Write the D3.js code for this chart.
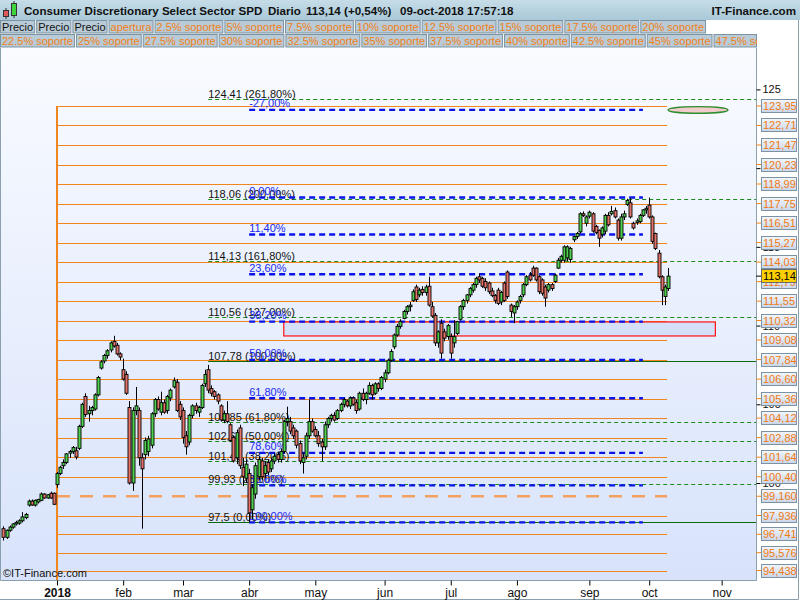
<!DOCTYPE html>
<html>
<head>
<meta charset="utf-8">
<script src="https://cdn.jsdelivr.net/npm/d3@7"></script>
<style>
  body { margin: 0; background: #fff; }
  svg { display: block; font-family: "Liberation Sans", Arial, sans-serif; }
</style>
</head>
<body>
<svg id="chart" width="800" height="600"></svg>
<script>
// ---- data ----
const firstDay = '2017-12-06';
const holidays = ['2017-12-25', '2018-01-01', '2018-01-15', '2018-02-19', '2018-03-30',
    '2018-05-28', '2018-07-04', '2018-09-03', '2018-11-22'];

const open = [
    97.1, 96.55, 97.0, 97.2, 97.4, 97.45, 97.6, 97.8, 98.6, 98.85, 98.6, 98.8, 98.9, 99.3, 99.05, 99.35, 99.35,
    99.9, 100.6, 101.1, 101.3, 101.9, 102.0, 102.05, 102.2, 103.6, 105.5, 104.4, 104.6, 104.7, 105.6, 107.3, 107.75, 108.1, 108.45, 109.0, 108.75, 108.2,
    107.2, 106.9, 104.8, 100.0, 104.6, 104.6, 101.6, 101.8, 102.0, 102.4, 104.4, 105.3, 104.5, 105.1, 104.6, 105.4, 106.1, 106.4, 105.0,
    104.6, 103.0, 102.6, 104.3, 104.9, 104.5, 104.8, 106.3, 107.2, 106.0, 105.8, 105.6, 104.9, 104.0, 104.4, 103.7, 102.9, 101.6, 103.5, 101.0, 100.3,
    100.6, 98.3, 99.3, 100.4, 101.4, 100.6, 101.3, 100.9, 101.4, 101.8, 101.5, 102.0, 103.9, 103.9, 103.5, 103.3, 102.5, 101.3, 101.7, 103.0, 103.9,
    103.4, 103.0, 102.6, 102.3, 103.7, 104.1, 104.3, 104.1, 104.6, 105.0, 105.2, 104.9, 105.4, 105.1, 104.7, 105.7, 105.3, 105.7, 106.2, 105.7, 106.3, 106.0,
    106.6, 107.0, 107.8, 108.65, 109.4, 109.95, 110.45, 110.9, 111.2, 111.6, 112.45, 111.95, 112.3, 112.1, 112.5, 111.2, 110.65, 108.9, 110.15, 109.6, 109.3,
    109.3, 108.9, 109.5, 110.4, 111.2, 111.6, 111.95, 112.25, 112.6, 113.1, 113.0, 112.8, 112.7, 112.2, 111.9, 112.25, 111.5, 112.7, 113.4, 111.3, 110.8,
    111.2, 111.6, 111.95, 112.6, 113.2, 113.65, 113.65, 113.1, 112.9, 112.45, 112.25, 112.6, 112.8, 113.65, 114.15, 114.15, 114.3, 114.2, 115.45, 115.65, 115.95, 117.1, 116.5,
    116.95, 117.1, 116.3, 116.05, 115.8, 116.0, 117.0, 117.1, 117.3, 116.7, 115.55, 116.9, 117.7, 117.8, 116.5, 116.55, 116.6, 117.0, 117.35,
    117.65, 116.9, 115.85, 114.6, 113.1, 111.85, 112.35
];
const high = [
    97.25, 97.05, 97.3, 97.45, 97.6, 97.7, 98.15, 98.1, 98.95, 98.95, 98.95, 99.0, 99.4, 99.35, 99.3, 99.45, 99.4,
    100.7, 101.1, 101.5, 101.9, 102.1, 102.35, 102.3, 103.7, 105.1, 105.7, 104.9, 104.9, 105.7, 106.8, 107.8, 108.2, 108.5, 109.0, 109.35, 108.9, 108.3,
    107.9, 107.1, 105.2, 104.8, 106.1, 104.8, 101.9, 102.9, 103.0, 104.5, 105.4, 105.5, 105.8, 105.3, 105.6, 106.0, 106.7, 106.6, 105.2,
    104.8, 103.3, 104.4, 105.0, 105.1, 104.9, 106.3, 107.2, 107.5, 106.2, 105.9, 105.7, 105.0, 104.6, 105.2, 103.8, 103.0, 103.4, 103.7, 101.6, 101.5,
    100.9, 99.9, 101.3, 101.7, 101.6, 101.4, 101.5, 101.6, 101.9, 102.0, 102.2, 104.0, 104.85, 104.2, 103.7, 103.4, 102.7, 101.9, 103.2, 105.3, 104.1,
    103.6, 103.3, 102.8, 103.9, 104.2, 104.4, 104.5, 104.7, 105.1, 105.4, 105.3, 105.5, 105.5, 105.3, 105.8, 106.0, 105.8, 106.4, 106.3, 106.4, 106.4, 106.8,
    107.2, 107.9, 108.5, 109.5, 110.1, 110.4, 111.0, 111.3, 111.5, 112.3, 112.6, 112.4, 112.5, 112.6, 113.1, 111.5, 110.8, 109.7, 110.4, 109.8, 110.1,
    109.5, 110.35, 110.3, 111.3, 111.7, 112.0, 112.45, 112.7, 113.1, 113.3, 113.1, 113.0, 112.8, 112.4, 112.0, 112.4, 112.2, 112.8, 113.5, 111.4, 111.3,
    111.6, 111.95, 112.7, 113.2, 113.4, 113.8, 113.7, 113.2, 113.0, 112.6, 112.7, 112.7, 113.3, 114.3, 114.5, 115.1, 115.1, 115.0, 115.7, 115.95, 117.2, 117.25, 117.0,
    117.3, 117.2, 116.4, 116.1, 116.3, 117.1, 117.2, 117.6, 117.5, 116.8, 117.1, 117.3, 118.05, 118.1, 116.6, 116.8, 117.1, 117.4, 117.6,
    118.13, 117.0, 115.9, 114.8, 113.2, 112.6, 113.65
];
const low = [
    96.35, 96.45, 96.9, 97.1, 97.3, 97.35, 97.5, 97.7, 98.5, 98.55, 98.5, 98.7, 98.85, 99.0, 99.0, 99.0, 98.6,
    99.7, 100.5, 100.9, 101.2, 101.6, 101.85, 101.5, 102.1, 103.5, 104.2, 103.9, 104.3, 104.6, 105.5, 107.2, 107.6, 107.9, 108.3, 108.6, 108.1, 107.8,
    106.5, 105.6, 99.9, 99.5, 104.3, 101.1, 97.1, 101.5, 101.7, 102.2, 104.2, 104.6, 104.3, 104.4, 104.4, 105.2, 106.0, 104.5, 104.0,
    102.5, 101.8, 102.4, 104.1, 104.4, 104.2, 104.7, 106.1, 105.7, 105.5, 105.3, 105.0, 103.9, 103.8, 103.8, 102.6, 101.3, 101.2, 100.9, 99.8, 100.0,
    97.5, 97.7, 99.0, 100.2, 100.2, 100.3, 100.5, 100.7, 101.2, 101.3, 101.3, 101.9, 103.6, 103.1, 102.8, 102.2, 101.2, 100.6, 101.5, 102.8, 103.2,
    102.9, 102.3, 101.4, 102.1, 103.5, 103.9, 103.9, 104.0, 104.5, 104.8, 104.8, 104.7, 104.9, 104.4, 104.6, 105.2, 105.0, 105.6, 105.3, 105.6, 105.8, 105.9,
    106.4, 106.9, 107.7, 108.5, 109.3, 109.8, 110.4, 110.7, 110.9, 111.5, 111.5, 111.8, 111.9, 111.9, 111.2, 110.5, 108.7, 108.6, 107.9, 109.0, 109.1,
    107.9, 108.6, 109.4, 110.3, 111.0, 111.4, 111.8, 112.1, 112.4, 112.7, 112.4, 112.2, 112.0, 111.8, 111.4, 111.3, 111.3, 111.5, 111.7, 110.55, 110.15,
    111.0, 111.4, 111.8, 112.5, 112.8, 113.1, 112.8, 112.0, 111.9, 111.2, 112.1, 112.2, 112.7, 113.6, 114.0, 114.0, 114.1, 114.0, 115.3, 115.5, 115.85, 116.9, 116.3,
    116.8, 115.9, 115.8, 115.0, 115.6, 115.8, 116.3, 117.0, 116.8, 115.4, 115.4, 116.7, 117.6, 116.8, 116.1, 116.4, 116.5, 116.9, 117.1,
    116.8, 115.2, 114.8, 113.0, 111.3, 111.3, 112.2
];
const close = [
    96.55, 97.0, 97.2, 97.4, 97.5, 97.6, 97.85, 98.0, 98.85, 98.6, 98.9, 98.95, 99.3, 99.05, 99.25, 99.05, 98.65,
    100.6, 101.0, 101.3, 101.85, 102.0, 102.25, 101.65, 103.6, 105.0, 104.35, 104.6, 104.8, 105.6, 106.7, 107.7, 108.1, 108.4, 108.9, 108.7, 108.2, 108.0,
    106.6, 105.7, 100.0, 104.6, 104.9, 101.6, 100.9, 102.7, 102.8, 104.4, 105.3, 104.7, 105.1, 104.5, 105.5, 105.9, 106.5, 104.6, 104.2,
    102.9, 102.3, 104.3, 104.9, 104.6, 104.8, 106.2, 106.9, 105.9, 105.7, 105.5, 105.2, 104.0, 104.4, 103.9, 102.7, 101.4, 103.2, 101.1, 100.4, 101.2,
    98.1, 99.7, 101.1, 101.5, 100.4, 101.1, 100.7, 101.4, 101.7, 101.5, 102.0, 103.9, 104.1, 103.3, 103.0, 102.4, 101.4, 101.6, 103.0, 103.9, 103.3,
    103.0, 102.5, 102.3, 103.7, 104.1, 104.3, 104.0, 104.6, 105.0, 105.3, 104.9, 105.4, 105.0, 104.6, 105.7, 105.3, 105.7, 106.2, 105.6, 106.3, 106.0, 106.7,
    107.0, 107.8, 108.35, 109.4, 109.95, 110.25, 110.9, 111.2, 111.3, 112.15, 111.65, 112.25, 112.1, 112.45, 111.3, 110.6, 108.9, 109.6, 108.25, 109.2, 110.0,
    108.25, 109.3, 110.25, 111.2, 111.6, 111.95, 112.35, 112.6, 113.0, 112.9, 112.5, 112.4, 112.15, 111.9, 111.6, 111.4, 112.1, 111.6, 111.85, 110.9, 111.2,
    111.5, 111.85, 112.6, 113.1, 112.9, 113.2, 112.9, 112.15, 112.05, 111.75, 112.6, 112.35, 113.2, 114.15, 114.4, 115.0, 115.0, 114.9, 115.65, 115.85, 117.1, 117.0, 116.9,
    117.2, 116.0, 115.9, 115.55, 116.2, 117.0, 116.4, 117.25, 116.9, 115.55, 116.9, 117.1, 117.95, 116.9, 116.2, 116.65, 117.0, 117.35, 117.45,
    116.9, 115.35, 114.9, 113.1, 112.25, 112.45, 113.14
];

const lastPrice = 113.14;
const supportLevels = [123.95, 122.71, 121.47, 120.23, 118.99, 117.75, 116.51, 115.27, 114.03, 112.79,
    111.55, 110.32, 109.08, 107.84, 106.60, 105.36, 104.12, 102.88, 101.64, 100.40, 99.160, 97.936,
    96.741, 95.576, 94.438];
const dashedSupport = 99.160;

const extPrices = [97.5, 99.93, 101.43, 102.64, 103.85, 107.78, 110.56, 114.13, 118.06, 124.41];
const extPct = ['0,00', '23,60', '38,20', '50,00', '61,80', '100,00', '127,00', '161,80', '200,00', '261,80'];

const retPrices = [123.70, 118.13, 115.78, 113.26, 110.25, 107.815, 105.38, 101.915, 99.85, 97.5];
const retPct = ['-27,00', '0,00', '11,40', '23,60', '38,20', '50,00', '61,80', '78,60', '88,60', '100,00'];

const monthLabels = ['2018', 'feb', 'mar', 'abr', 'may', 'jun', 'jul', 'ago', 'sep', 'oct', 'nov'];
const axisTicks = [100, 105, 110, 115, 120, 125];

const toolbarRow1 = ['Precio', 'Precio', 'Precio', 'apertura', '2.5% soporte', '5% soporte', '7.5% soporte',
    '10% soporte', '12.5% soporte', '15% soporte', '17.5% soporte', '20% soporte'];
const toolbarRow2 = ['22.5% soporte', '25% soporte', '27.5% soporte', '30% soporte', '32.5% soporte',
    '35% soporte', '37.5% soporte', '40% soporte', '42.5% soporte', '45% soporte', '47.5% soporte'];

// ---- calendar ----
const parse = d3.utcParse('%Y-%m-%d');
const fmt = d3.utcFormat('%Y-%m-%d');
const days = d3.utcDay.range(parse(firstDay), parse('2018-12-01'))
    .filter((d) => d.getUTCDay() % 6 !== 0 && !holidays.includes(fmt(d)));
const idxOf = (s) => days.findIndex((d) => fmt(d) === s);
const monthIdx = monthLabels.map((m, k) =>
    days.findIndex((d) => d.getUTCFullYear() === 2018 && d.getUTCMonth() === k));

const candles = close.map((c, i) => ({ i, o: open[i], h: high[i], l: low[i], c }));

// ---- layout ----
const plot = { left: 1, top: 48, right: 756, bottom: 580 };
const svg = d3.select('#chart');
const deC = d3.formatLocale({ decimal: ',', thousands: '.', grouping: [3], currency: ['', ''] });
const fmt5 = deC.format('.5r');
const fmtTrim = deC.format('.5~r');

const x = d3.scaleLinear()
    .domain([idxOf('2018-01-02'), idxOf('2018-10-09')])
    .range([57, 668.1]);
const y = d3.scaleLinear()
    .domain([93.84, 127.63])
    .range([plot.bottom, plot.top]);

const defs = svg.append('defs');
const g1 = defs.append('linearGradient').attr('id', 'bg').attr('x1', 0).attr('x2', 0).attr('y1', 0).attr('y2', 1);
g1.append('stop').attr('offset', 0).attr('stop-color', '#f9fbff');
g1.append('stop').attr('offset', 1).attr('stop-color', '#d8e3fb');
const g2 = defs.append('linearGradient').attr('id', 'title').attr('x1', 0).attr('x2', 0).attr('y1', 0).attr('y2', 1);
g2.append('stop').attr('offset', 0).attr('stop-color', '#c6dde8');
g2.append('stop').attr('offset', 1).attr('stop-color', '#a9c8d7');
const g3 = defs.append('linearGradient').attr('id', 'lbl').attr('x1', 0).attr('x2', 0).attr('y1', 0).attr('y2', 1);
g3.append('stop').attr('offset', 0).attr('stop-color', '#f2f6fc');
g3.append('stop').attr('offset', 1).attr('stop-color', '#c9d6ea');
defs.append('clipPath').attr('id', 'clip').append('rect')
    .attr('x', plot.left).attr('y', plot.top)
    .attr('width', plot.right - plot.left).attr('height', plot.bottom - plot.top);

// ---- title bar ----
svg.append('rect').attr('width', 800).attr('height', 20).attr('fill', 'url(#title)');
const icon = svg.append('g');
icon.append('line').attr('x1', 6).attr('x2', 6).attr('y1', 8).attr('y2', 19).attr('stroke', '#333');
icon.append('rect').attr('x', 3.5).attr('y', 10.5).attr('width', 5).attr('height', 6).attr('fill', '#e05a5a').attr('stroke', '#333');
icon.append('line').attr('x1', 14).attr('x2', 14).attr('y1', 1).attr('y2', 18).attr('stroke', '#333');
icon.append('rect').attr('x', 11.5).attr('y', 3.5).attr('width', 5).attr('height', 12).attr('fill', '#3ed43e').attr('stroke', '#333');
const titleParts = [
    ['Consumer Discretionary Select Sector SPD', 24],
    ['Diario', 268],
    ['113,14 (+0,54%)', 306],
    ['09-oct-2018 17:57:18', 400],
];
titleParts.forEach(([t, tx]) => svg.append('text').attr('x', tx).attr('y', 15)
    .attr('font-size', 11.6).attr('font-weight', 'bold').attr('fill', '#111').text(t));
svg.append('text').attr('x', 796).attr('y', 15).attr('text-anchor', 'end')
    .attr('font-size', 11.6).attr('font-weight', 'bold').attr('fill', '#111').text('IT-Finance.com');

// ---- toolbar ----
function toolbar(labels, top, clipRight) {
    const row = svg.append('g');
    let bx = 0;
    labels.forEach((t) => {
        const b = row.append('g');
        const rect = b.append('rect').attr('y', top + 0.5).attr('height', 12.5)
            .attr('fill', '#b9cbd6').attr('stroke', '#7b93a3');
        const txt = b.append('text').attr('x', bx + 2).attr('y', top + 10.5).attr('font-size', 11)
            .attr('fill', t === 'Precio' ? '#111' : '#f08018').text(t);
        const w = txt.node().getComputedTextLength() + 4;
        rect.attr('x', bx + 0.5).attr('width', Math.min(w, clipRight - bx) - 1);
        if (bx + w > clipRight) {
            const cid = 'tc' + top;
            defs.append('clipPath').attr('id', cid).append('rect')
                .attr('x', 0).attr('y', top).attr('width', clipRight).attr('height', 14);
            b.attr('clip-path', `url(#${cid})`);
        }
        bx += w + 1;
    });
}
toolbar(toolbarRow1, 20, 800);
toolbar(toolbarRow2, 34, 757);

// ---- plot background ----
svg.append('rect').attr('x', plot.left).attr('y', plot.top)
    .attr('width', plot.right - plot.left).attr('height', plot.bottom - plot.top)
    .attr('fill', 'url(#bg)');

const body = svg.append('g').attr('clip-path', 'url(#clip)');

// orange support levels
const x0 = x(idxOf('2018-01-02'));
const x1 = x(idxOf('2018-10-09')) - 1;
body.selectAll('.sup').data(supportLevels.filter((v) => v !== dashedSupport)).enter()
    .append('line').attr('class', 'sup')
    .attr('x1', x0).attr('x2', x1)
    .attr('y1', (d) => Math.round(y(d)) + 0.5).attr('y2', (d) => Math.round(y(d)) + 0.5)
    .attr('stroke', '#f2861e').attr('stroke-width', 1.2);
body.append('line')
    .attr('x1', x0).attr('x2', x1)
    .attr('y1', y(dashedSupport)).attr('y2', y(dashedSupport))
    .attr('stroke', '#f4a060').attr('stroke-width', 2.5).attr('stroke-dasharray', '13,10');
body.append('line')
    .attr('x1', x0).attr('x2', x0)
    .attr('y1', y(supportLevels[0])).attr('y2', plot.bottom)
    .attr('stroke', '#f2861e').attr('stroke-width', 2);

// gap box
body.append('rect')
    .attr('x', x(idxOf('2018-04-17'))).attr('width', x(idxOf('2018-10-30')) - x(idxOf('2018-04-17')))
    .attr('y', y(110.23)).attr('height', y(109.34) - y(110.23))
    .attr('fill', '#d4dffa').attr('stroke', '#ff1010').attr('stroke-width', 1.2);

// extension levels (green)
const extX = x(idxOf('2018-03-13'));
extPrices.forEach((p, k) => {
    const yy = Math.round(y(p)) + 0.5;
    const solid = extPct[k] === '0,00' || extPct[k] === '100,00';
    body.append('line').attr('x1', extX).attr('x2', plot.right).attr('y1', yy).attr('y2', yy)
        .attr('stroke', solid ? '#0d6b0d' : '#1a8c1a').attr('stroke-width', 1)
        .attr('stroke-dasharray', solid ? null : '4,3');
    body.append('text').attr('x', extX).attr('y', yy - 2).attr('font-size', 11).attr('fill', '#111')
        .text(`${fmtTrim(p)} (${extPct[k]}%)`);
});

// retracement levels (blue)
const retX0 = x(idxOf('2018-04-02'));
const retX1 = x(idxOf('2018-09-27'));
retPrices.forEach((p, k) => {
    const yy = y(p);
    body.append('line').attr('x1', retX0).attr('x2', retX1).attr('y1', yy).attr('y2', yy)
        .attr('stroke', '#0a14e8').attr('stroke-width', 2.4).attr('stroke-dasharray', '6,4');
    body.append('text').attr('x', retX0).attr('y', yy - 2.5).attr('font-size', 11).attr('fill', '#1c28f0')
        .text(`${retPct[k]}%`);
});

// candles
const cg = body.append('g');
cg.selectAll('.wick').data(candles).enter().append('line').attr('class', 'wick')
    .attr('x1', (d) => Math.round(x(d.i)) + 0.5).attr('x2', (d) => Math.round(x(d.i)) + 0.5)
    .attr('y1', (d) => y(d.h)).attr('y2', (d) => y(d.l))
    .attr('stroke', '#000').attr('stroke-width', 1);
cg.selectAll('.bar').data(candles).enter().append('rect').attr('class', 'bar')
    .attr('x', (d) => Math.round(x(d.i)) - 1)
    .attr('width', 3)
    .attr('y', (d) => y(Math.max(d.o, d.c)))
    .attr('height', (d) => Math.max(1, Math.abs(y(d.o) - y(d.c))))
    .attr('fill', (d) => (d.c >= d.o ? '#4fd04f' : '#e4736a'))
    .attr('stroke', '#000').attr('stroke-width', 0.9);

// target ellipse
const ex0 = x(idxOf('2018-10-09'));
const ex1 = x(idxOf('2018-11-05'));
body.append('ellipse')
    .attr('cx', (ex0 + ex1) / 2).attr('rx', (ex1 - ex0) / 2)
    .attr('cy', y(123.7)).attr('ry', 3.3)
    .attr('fill', '#f2cccc').attr('stroke', '#2e8b2e').attr('stroke-width', 1.4);

svg.append('text').attr('x', 3).attr('y', 577).attr('font-size', 11).attr('fill', '#111').text('\u00a9IT-Finance.com');

// ---- frame ----
svg.append('path')
    .attr('d', `M${plot.left - 0.5},${plot.top}V${plot.bottom + 0.5}H${plot.right + 0.5}V${plot.top}`)
    .attr('fill', 'none').attr('stroke', '#8aa0ae');
svg.append('path').attr('d', 'M798.5,20V599.5H0').attr('fill', 'none').attr('stroke', '#8aa0ae');

// ---- axes ----
const xAxis = svg.append('g').attr('transform', `translate(0,${plot.bottom + 0.5})`)
    .call(d3.axisBottom(x).tickValues(monthIdx).tickFormat((d, k) => monthLabels[k]).tickSize(5).tickPadding(3));
xAxis.select('.domain').remove();
xAxis.selectAll('text').attr('font-size', 12).attr('font-family', '"Liberation Sans", Arial, sans-serif')
    .attr('fill', '#111').attr('font-weight', (d, k) => (k === 0 ? 'bold' : null));

const yAxis = svg.append('g').attr('transform', `translate(${plot.right + 0.5},0)`)
    .call(d3.axisRight(y).tickValues(axisTicks).tickFormat(d3.format('d')).tickSize(4).tickPadding(2));
yAxis.select('.domain').remove();
yAxis.selectAll('text').attr('font-size', 11).attr('font-family', '"Liberation Sans", Arial, sans-serif').attr('fill', '#111');

// right labels
const rl = svg.append('g');
supportLevels.forEach((v) => {
    const yy = y(v);
    rl.append('line').attr('x1', plot.right).attr('x2', 761).attr('y1', yy).attr('y2', yy)
        .attr('stroke', '#f2861e');
    rl.append('rect').attr('x', 761.5).attr('y', Math.round(yy - 7) + 0.5).attr('width', 35).attr('height', 13)
        .attr('fill', 'url(#lbl)').attr('stroke', '#7d93a4');
    rl.append('text').attr('x', 763).attr('y', Math.round(yy - 7) + 11).attr('font-size', 11)
        .attr('fill', '#f07a12').text(fmt5(v));
});
const ly = y(lastPrice);
rl.append('line').attr('x1', plot.right).attr('x2', 761).attr('y1', ly).attr('y2', ly).attr('stroke', '#000');
rl.append('rect').attr('x', 761.5).attr('y', Math.round(ly - 7) + 0.5).attr('width', 35).attr('height', 13)
    .attr('fill', '#ffd000').attr('stroke', '#6a6a6a');
rl.append('text').attr('x', 763).attr('y', Math.round(ly - 7) + 11).attr('font-size', 11)
    .attr('fill', '#000').text(deC.format('.2f')(lastPrice));
</script>
</body>
</html>
